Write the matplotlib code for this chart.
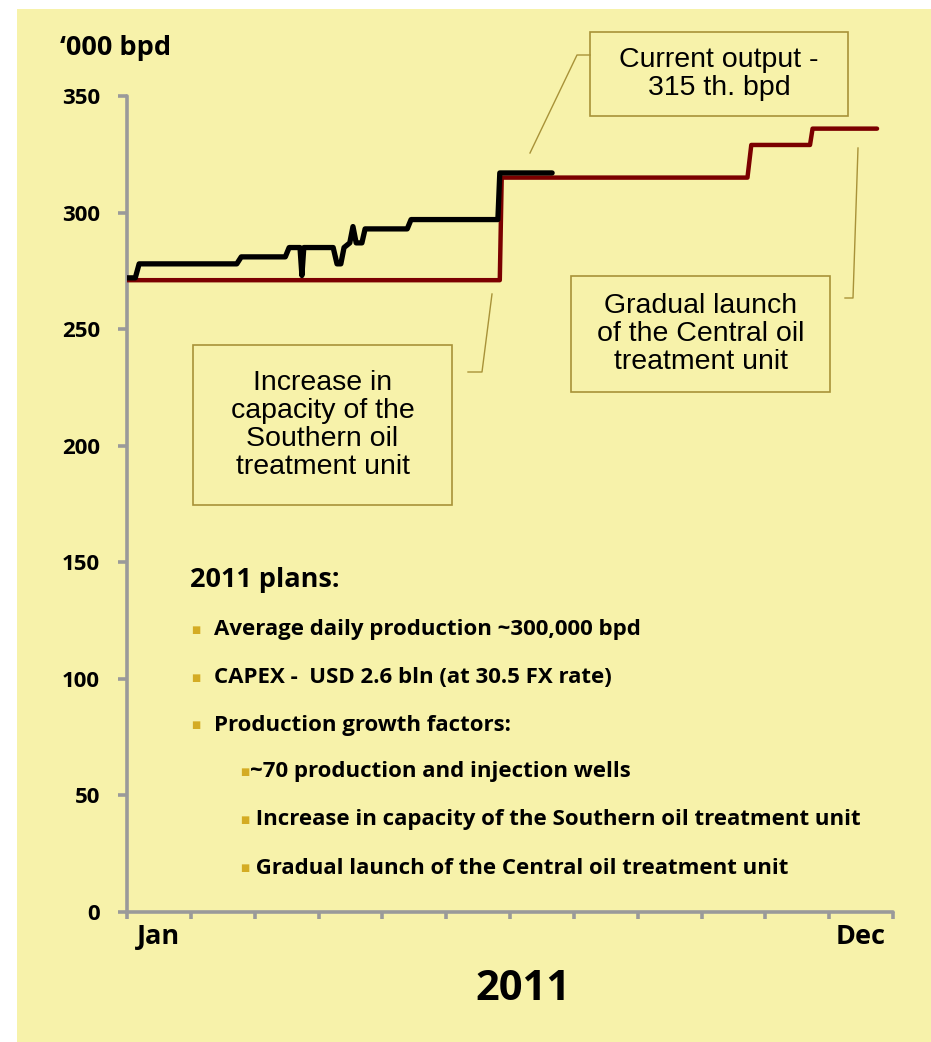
import matplotlib.pyplot as plt
from matplotlib.patches import Rectangle
import numpy as np

W, H = 931, 1042
BG = "#F7F2AA"
GOLD = "#A89238"
BULLET = "#D4AC24"
FONT = "Open Sans"

# black line - actual daily output ('000 bpd), x in months from Jan
actual_x = [0.0, 0.13, 0.19, 1.72, 1.79, 2.48, 2.54, 2.71, 2.74, 2.77, 3.23, 3.29, 3.35,
            3.40, 3.49, 3.54, 3.59, 3.68, 3.73, 4.39, 4.45, 5.81, 5.84, 6.66]
actual_y = [272, 272, 278, 278, 281, 281, 285, 285, 273, 285, 285, 278, 278,
            285, 287, 294, 287, 287, 293, 293, 297, 297, 317, 317]

# dark red line - planned capacity
plan_x = [0.0, 5.84, 5.87, 9.72, 9.78, 10.70, 10.74, 11.75]
plan_y = [271, 271, 315, 315, 329, 329, 336, 336]

months = ["Jan", "", "", "", "", "", "", "", "", "", "", "Dec"]
yticks = [0, 50, 100, 150, 200, 250, 300, 350]

plans_title = "2011 plans:"
plans = ["Average daily production ~300,000 bpd",
         "CAPEX -  USD 2.6 bln (at 30.5 FX rate)",
         "Production growth factors:"]
factors = ["~70 production and injection wells",
           " Increase in capacity of the Southern oil treatment unit",
           " Gradual launch of the Central oil treatment unit"]

boxes = [("Current output -\n315 th. bpd", (590, 32, 848, 116)),
         ("Increase in\ncapacity of the\nSouthern oil\ntreatment unit", (193, 345, 452, 505)),
         ("Gradual launch\nof the Central oil\ntreatment unit", (571, 276, 830, 392))]
leaders = [[(590, 55), (577, 55), (530, 153)],
           [(468, 372), (482, 372), (492, 294)],
           [(845, 298), (853, 298), (858, 148)]]


def fx(x):
    return x / W


def fy(y):
    return 1 - y / H


fig = plt.figure(figsize=(W / 100, H / 100), dpi=100, facecolor="white")
fig.patches.append(Rectangle((fx(17), 0), 1 - fx(17), fy(9), transform=fig.transFigure,
                             facecolor=BG, edgecolor="none", zorder=-10))

ax = fig.add_axes([fx(127), fy(912), fx(893) - fx(127), fy(96) - fy(912)])
ax.set_facecolor("none")

ax.plot(plan_x, plan_y, color="#7B0000", lw=3.2, solid_capstyle="round", zorder=3)
ax.plot(actual_x, actual_y, color="black", lw=3.8, solid_capstyle="round",
        solid_joinstyle="round", zorder=4)

ax.set_xlim(0, 12)
ax.set_ylim(0, 350)
for s in ["top", "right"]:
    ax.spines[s].set_visible(False)
for s in ["left", "bottom"]:
    ax.spines[s].set_color("#9A9A9A")
    ax.spines[s].set_linewidth(2.6)
    ax.spines[s].set_capstyle("round")

ax.set_xticks(np.arange(0, 13))
ax.set_xticklabels([])
ax.set_xticks(np.arange(12) + 0.5, minor=True)
ax.set_xticklabels(months, minor=True, fontfamily=FONT, fontweight="bold", fontsize=19.5)
ax.tick_params(axis="x", which="major", direction="out", length=5, width=2.6, color="#9A9A9A")
ax.tick_params(axis="x", which="minor", length=0, pad=9)
ax.set_yticks(yticks)
ax.set_yticklabels([str(v) for v in yticks], fontfamily=FONT, fontweight="bold", fontsize=16)
ax.tick_params(axis="y", direction="out", length=6.5, width=2.6, color="#9A9A9A", pad=13)

fig.text(fx(60), fy(48), "\u2018000 bpd", fontfamily=FONT, fontweight="bold",
         fontsize=19.5, va="center", ha="left")
fig.text(fx(523), fy(990), "2011", fontfamily=FONT, fontweight="bold",
         fontsize=30, va="center", ha="center")

for txt, (x0, y0, x1, y1) in boxes:
    fig.patches.append(Rectangle((fx(x0), fy(y1)), fx(x1) - fx(x0), fy(y0) - fy(y1),
                                 transform=fig.transFigure, facecolor="none",
                                 edgecolor=GOLD, lw=1.2, zorder=5))
    fig.text(fx((x0 + x1) / 2), fy((y0 + y1) / 2), txt, fontfamily="Liberation Sans",
             fontsize=20.5, ha="center", va="center", linespacing=1.1, zorder=6)

for pts in leaders:
    xs = [fx(p[0]) for p in pts]
    ys = [fy(p[1]) for p in pts]
    fig.add_artist(plt.Line2D(xs, ys, transform=fig.transFigure, color=GOLD, lw=1.0))

fig.text(fx(190), fy(580), plans_title, fontfamily=FONT, fontweight="bold",
         fontsize=19.5, va="center", ha="left")
for i, t in enumerate(plans):
    y = 630 + i * 47.5
    fig.text(fx(196), fy(y), "\u25a0", color=BULLET, fontsize=7, va="center", ha="center",
             fontfamily="DejaVu Sans")
    fig.text(fx(214), fy(y), t, fontfamily=FONT, fontweight="bold", fontsize=16,
             va="center", ha="left")
for i, t in enumerate(factors):
    y = 772 + i * 48
    fig.text(fx(245), fy(y), "\u25a0", color=BULLET, fontsize=7, va="center", ha="center",
             fontfamily="DejaVu Sans")
    fig.text(fx(250), fy(y), t, fontfamily=FONT, fontweight="bold", fontsize=16,
             va="center", ha="left")

fig.savefig("out.png", dpi=100, facecolor="white")
